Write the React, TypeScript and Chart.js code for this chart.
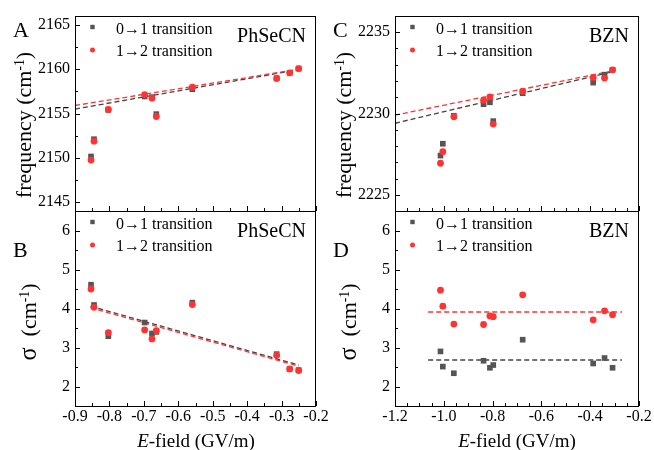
import React, { useEffect, useRef } from "react";
import { Chart, registerables } from "chart.js";

Chart.register(...registerables);

// ---------------- data ----------------
const PHSECN_FIELD = [-0.8535, -0.8448, -0.8032, -0.6977, -0.6764, -0.6638, -0.5592, -0.3143, -0.2765, -0.2504];
const PHSECN_FREQ_01 = [2150.15, 2152.1, 2155.41, 2156.92, 2156.85, 2154.93, 2157.74, 2158.98, 2159.59, 2160.07];
const PHSECN_FREQ_12 = [2149.74, 2151.88, 2155.45, 2157.14, 2156.73, 2154.66, 2157.97, 2158.95, 2159.59, 2160.07];
const PHSECN_SIGMA_01 = [4.61, 4.09, 3.29, 3.64, 3.36, 3.4, 4.15, 2.83, 2.45, 2.42];
const PHSECN_SIGMA_12 = [4.5, 4.03, 3.38, 3.45, 3.22, 3.43, 4.1, 2.8, 2.45, 2.41];

const PHSECN_FREQ_FIT_X = [-0.9, -0.25];
const PHSECN_FREQ_FIT_01 = [2155.5, 2159.95];
const PHSECN_FREQ_FIT_12 = [2155.9, 2160.0];
const PHSECN_SIGMA_FIT_X = [-0.855, -0.25];
const PHSECN_SIGMA_FIT_01 = [4.06, 2.55];
const PHSECN_SIGMA_FIT_12 = [4.02, 2.52];

const BZN_FIELD = [-1.0136, -1.004, -0.9588, -0.837, -0.811, -0.7973, -0.6767, -0.3878, -0.3412, -0.3084];
const BZN_FREQ_01 = [2227.41, 2228.14, 2229.86, 2230.57, 2230.69, 2229.53, 2231.25, 2231.9, 2232.39, 2232.69];
const BZN_FREQ_12 = [2226.94, 2227.65, 2229.8, 2230.82, 2231.02, 2229.35, 2231.37, 2232.22, 2232.18, 2232.69];
const BZN_SIGMA_01 = [2.9, 2.51, 2.34, 2.66, 2.48, 2.55, 3.2, 2.59, 2.73, 2.48];
const BZN_SIGMA_12 = [4.47, 4.06, 3.6, 3.59, 3.81, 3.79, 4.35, 3.71, 3.94, 3.84];

const BZN_FREQ_FIT_X = [-1.2, -0.3];
const BZN_FREQ_FIT_01 = [2229.4, 2232.6];
const BZN_FREQ_FIT_12 = [2229.9, 2232.65];
const BZN_SIGMA_FIT_X = [-1.064, -0.27];
const BZN_SIGMA_FIT_01 = [2.68, 2.68];
const BZN_SIGMA_FIT_12 = [3.91, 3.91];

const PHSECN_X_TICKS = [-0.9, -0.8, -0.7, -0.6, -0.5, -0.4, -0.3, -0.2];
const BZN_X_TICKS = [-1.2, -1.0, -0.8, -0.6, -0.4, -0.2];
const PHSECN_FREQ_TICKS = [2145, 2150, 2155, 2160, 2165];
const BZN_FREQ_TICKS = [2225, 2230, 2235];
const SIGMA_TICKS = [2, 3, 4, 5, 6];

const LEGEND_01 = "0\u21921 transition";
const LEGEND_12 = "1\u21922 transition";

// ---------------- style ----------------
const W = 654;
const H = 450;
const Y_AXIS_W = 60;
const X_AXIS_H = 30;
const GREY = "#555555";
const GREY_LINE = "#444444";
const RED = "#ff3333";
const FONT = '"Liberation Serif", "Times New Roman", serif';

type Area = { left: number; top: number; right: number; bottom: number };
type Panel = {
  area: Area;
  xMin: number; xMax: number; xTicks: number[]; xMinor: number; showX: boolean;
  yMin: number; yMax: number; yTicks: number[]; yMinor: number; yDecimals: number;
  x: number[]; y01: number[]; y12: number[];
  fitX: number[]; fit01: number[]; fit12: number[];
  name: string;
};

const PANELS: Panel[] = [
  {
    area: { left: 75, top: 16, right: 316, bottom: 211 },
    xMin: -0.9, xMax: -0.2, xTicks: PHSECN_X_TICKS, xMinor: 0.05, showX: false,
    yMin: 2144, yMax: 2166, yTicks: PHSECN_FREQ_TICKS, yMinor: 2.5, yDecimals: 0,
    x: PHSECN_FIELD, y01: PHSECN_FREQ_01, y12: PHSECN_FREQ_12,
    fitX: PHSECN_FREQ_FIT_X, fit01: PHSECN_FREQ_FIT_01, fit12: PHSECN_FREQ_FIT_12,
    name: "PhSeCN",
  },
  {
    area: { left: 75, top: 211, right: 316, bottom: 406 },
    xMin: -0.9, xMax: -0.2, xTicks: PHSECN_X_TICKS, xMinor: 0.05, showX: true,
    yMin: 1.5, yMax: 6.5, yTicks: SIGMA_TICKS, yMinor: 0.5, yDecimals: 0,
    x: PHSECN_FIELD, y01: PHSECN_SIGMA_01, y12: PHSECN_SIGMA_12,
    fitX: PHSECN_SIGMA_FIT_X, fit01: PHSECN_SIGMA_FIT_01, fit12: PHSECN_SIGMA_FIT_12,
    name: "PhSeCN",
  },
  {
    area: { left: 395, top: 16, right: 639, bottom: 211 },
    xMin: -1.2, xMax: -0.2, xTicks: BZN_X_TICKS, xMinor: 0.05, showX: false,
    yMin: 2224, yMax: 2236, yTicks: BZN_FREQ_TICKS, yMinor: 1, yDecimals: 0,
    x: BZN_FIELD, y01: BZN_FREQ_01, y12: BZN_FREQ_12,
    fitX: BZN_FREQ_FIT_X, fit01: BZN_FREQ_FIT_01, fit12: BZN_FREQ_FIT_12,
    name: "BZN",
  },
  {
    area: { left: 395, top: 211, right: 639, bottom: 406 },
    xMin: -1.2, xMax: -0.2, xTicks: BZN_X_TICKS, xMinor: 0.05, showX: true,
    yMin: 1.5, yMax: 6.5, yTicks: SIGMA_TICKS, yMinor: 0.5, yDecimals: 0,
    x: BZN_FIELD, y01: BZN_SIGMA_01, y12: BZN_SIGMA_12,
    fitX: BZN_SIGMA_FIT_X, fit01: BZN_SIGMA_FIT_01, fit12: BZN_SIGMA_FIT_12,
    name: "BZN",
  },
];

function multiples(min: number, max: number, step: number): number[] {
  const out: number[] = [];
  const a = Math.ceil(min / step - 1e-6);
  const b = Math.floor(max / step + 1e-6);
  for (let n = a; n <= b; n++) out.push(n * step);
  return out;
}

function framePlugin(p: Panel) {
  return {
    id: "frame",
    afterDraw(chart: any) {
      const { ctx, chartArea: a, scales } = chart;
      const xs = scales.x;
      const ys = scales.y;
      ctx.save();
      ctx.strokeStyle = "#000";
      ctx.lineWidth = 1;
      ctx.beginPath();
      const isMajor = (v: number, list: number[]) => list.some((t) => Math.abs(t - v) < 1e-6);
      for (const v of multiples(p.xMin, p.xMax, p.xMinor)) {
        const px = Math.round(xs.getPixelForValue(v)) + 0.5;
        const len = isMajor(v, p.xTicks) ? 5 : 3;
        ctx.moveTo(px, a.bottom);
        ctx.lineTo(px, a.bottom - len);
      }
      for (const v of multiples(p.yMin, p.yMax, p.yMinor)) {
        const py = Math.round(ys.getPixelForValue(v)) + 0.5;
        const len = isMajor(v, p.yTicks) ? 5 : 3;
        ctx.moveTo(a.left, py);
        ctx.lineTo(a.left + len, py);
      }
      ctx.stroke();
      ctx.strokeRect(a.left + 0.5, a.top + 0.5, a.right - a.left - 1, a.bottom - a.top);

      // legend
      const mx = a.left + 17.5;
      ctx.fillStyle = GREY;
      ctx.fillRect(mx - 2.2, a.top + 11 - 2.2, 4.4, 4.4);
      ctx.fillStyle = RED;
      ctx.beginPath();
      ctx.arc(mx, a.top + 34, 2.5, 0, Math.PI * 2);
      ctx.fill();
      ctx.fillStyle = "#000";
      ctx.font = `16px ${FONT}`;
      ctx.textBaseline = "alphabetic";
      ctx.textAlign = "left";
      ctx.fillText(LEGEND_01, a.left + 41, a.top + 17.5);
      ctx.fillText(LEGEND_12, a.left + 41, a.top + 40);
      ctx.font = `20px ${FONT}`;
      ctx.textAlign = "right";
      ctx.fillText(p.name, a.right - 10, a.top + 25.5);
      ctx.restore();
    },
  };
}

function makeConfig(p: Panel): any {
  const a = p.area;
  const pts = (xs: number[], ys: number[]) => xs.map((x, i) => ({ x, y: ys[i] }));
  return {
    type: "scatter",
    data: {
      datasets: [
        {
          label: "fit 0-1",
          data: pts(p.fitX, p.fit01),
          showLine: true,
          borderColor: GREY_LINE,
          borderDash: [5, 3],
          borderWidth: 1.3,
          pointRadius: 0,
          order: 3,
        },
        {
          label: "fit 1-2",
          data: pts(p.fitX, p.fit12),
          showLine: true,
          borderColor: RED,
          borderDash: [5, 3],
          borderWidth: 1.3,
          pointRadius: 0,
          order: 2,
        },
        {
          label: LEGEND_01,
          data: pts(p.x, p.y01),
          showLine: false,
          pointStyle: "rect",
          pointRadius: 4,
          backgroundColor: GREY,
          borderWidth: 0,
          order: 1,
        },
        {
          label: LEGEND_12,
          data: pts(p.x, p.y12),
          showLine: false,
          pointStyle: "circle",
          pointRadius: 3.4,
          backgroundColor: RED,
          borderWidth: 0,
          order: 0,
        },
      ],
    },
    options: {
      responsive: false,
      animation: false,
      devicePixelRatio: 1,
      events: [],
      layout: {
        padding: {
          left: a.left - Y_AXIS_W,
          top: a.top,
          right: W - a.right,
          bottom: H - a.bottom - X_AXIS_H,
        },
      },
      plugins: { legend: { display: false }, tooltip: { enabled: false }, title: { display: false } },
      scales: {
        x: {
          type: "linear",
          position: "bottom",
          min: p.xMin,
          max: p.xMax,
          grid: { display: false, drawTicks: false, tickLength: 0 },
          border: { display: false },
          ticks: {
            display: p.showX,
            autoSkip: false,
            maxRotation: 0,
            padding: 1,
            color: "#000",
            font: { family: FONT, size: 16 },
            callback: (v: any) => Number(v).toFixed(1),
          },
          afterBuildTicks: (s: any) => {
            s.ticks = p.xTicks.map((v) => ({ value: v }));
          },
          afterFit: (s: any) => {
            s.height = X_AXIS_H;
          },
        },
        y: {
          type: "linear",
          position: "left",
          min: p.yMin,
          max: p.yMax,
          grid: { display: false, drawTicks: false, tickLength: 0 },
          border: { display: false },
          ticks: {
            autoSkip: false,
            padding: 5,
            color: "#000",
            font: { family: FONT, size: 16 },
            callback: (v: any) => Number(v).toFixed(p.yDecimals),
          },
          afterBuildTicks: (s: any) => {
            s.ticks = p.yTicks.map((v) => ({ value: v }));
          },
          afterFit: (s: any) => {
            s.width = Y_AXIS_W;
          },
        },
      },
    },
    plugins: [framePlugin(p)],
  };
}

function PanelChart({ panel }: { panel: Panel }) {
  const ref = useRef<HTMLCanvasElement>(null);
  useEffect(() => {
    if (!ref.current) return;
    const chart = new Chart(ref.current, makeConfig(panel));
    return () => chart.destroy();
  }, [panel]);
  return (
    <canvas
      ref={ref}
      width={W}
      height={H}
      style={{ position: "absolute", left: 0, top: 0, width: W, height: H }}
    />
  );
}

const sup: React.CSSProperties = { fontSize: "0.62em", position: "relative", top: "-0.5em" };

function YTitle({ cx, cy, children }: { cx: number; cy: number; children: React.ReactNode }) {
  return (
    <div
      style={{
        position: "absolute",
        left: cx,
        top: cy,
        transform: "translate(-50%, -50%) rotate(-90deg)",
        whiteSpace: "nowrap",
        fontSize: 22,
        lineHeight: 1,
        fontFamily: FONT,
        color: "#000",
      }}
    >
      {children}
    </div>
  );
}

function XTitle({ cx, cy }: { cx: number; cy: number }) {
  return (
    <div
      style={{
        position: "absolute",
        left: cx,
        top: cy,
        transform: "translate(-50%, -50%)",
        whiteSpace: "nowrap",
        fontSize: 19,
        lineHeight: 1,
        fontFamily: FONT,
        color: "#000",
      }}
    >
      <i>E</i>-field (GV/m)
    </div>
  );
}

function Letter({ x, y, t }: { x: number; y: number; t: string }) {
  return (
    <div
      style={{
        position: "absolute",
        left: x,
        top: y,
        fontSize: 22,
        lineHeight: 1,
        fontFamily: FONT,
        color: "#000",
      }}
    >
      {t}
    </div>
  );
}

export default function App() {
  return (
    <div style={{ position: "absolute", left: 0, top: 0, width: W, height: H, background: "#fff", overflow: "hidden" }}>
      {PANELS.map((p, i) => (
        <PanelChart key={i} panel={p} />
      ))}
      <YTitle cx={24} cy={125}>
        frequency (cm<span style={sup}>-1</span>)
      </YTitle>
      <YTitle cx={344} cy={125}>
        frequency (cm<span style={sup}>-1</span>)
      </YTitle>
      <YTitle cx={28} cy={322}>
        <span style={{ fontSize: "1.1em" }}>σ</span>{"\u2002"}(cm<span style={sup}>-1</span>)
      </YTitle>
      <YTitle cx={348} cy={322}>
        <span style={{ fontSize: "1.1em" }}>σ</span>{"\u2002"}(cm<span style={sup}>-1</span>)
      </YTitle>
      <XTitle cx={196} cy={440} />
      <XTitle cx={517} cy={440} />
      <Letter x={13} y={18.6} t="A" />
      <Letter x={13} y={238.6} t="B" />
      <Letter x={333} y={18.6} t="C" />
      <Letter x={333} y={238.6} t="D" />
    </div>
  );
}
